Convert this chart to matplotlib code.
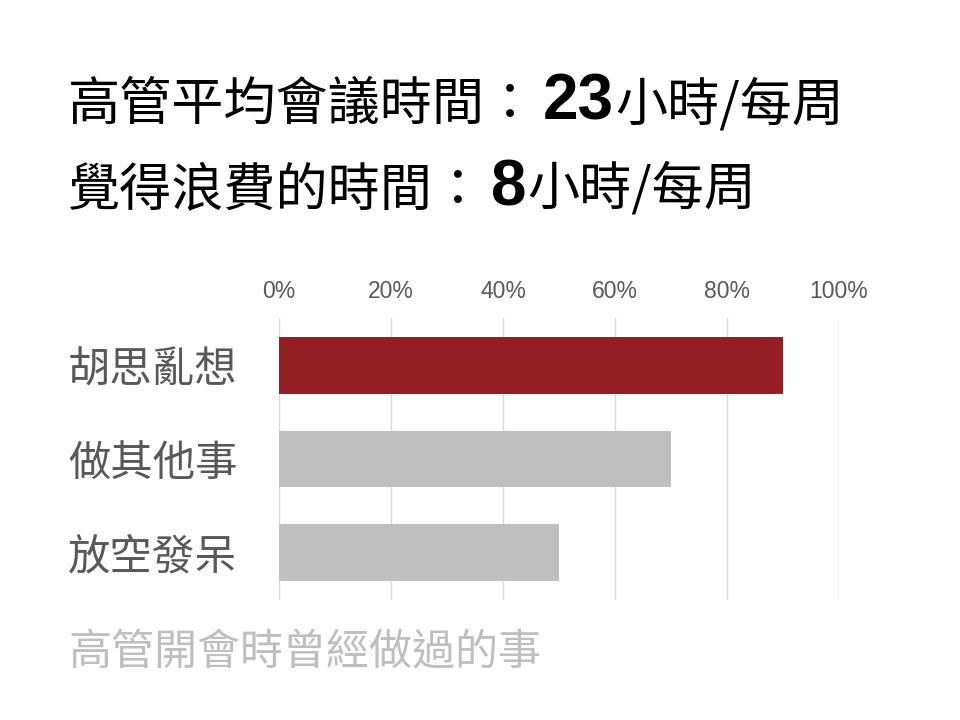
import matplotlib
matplotlib.use('Agg')
import matplotlib.pyplot as plt

plt.rcParams['font.family'] = ['Noto Sans CJK TC', 'DejaVu Sans']

categories = ['胡思亂想', '做其他事', '放空發呆']
values = [90, 70, 50]
bar_colors = ['#941f24', '#bfbfbf', '#bfbfbf']
xticks = [0, 20, 40, 60, 80, 100]
xtick_labels = ['0%', '20%', '40%', '60%', '80%', '100%']

title_lines = [
    ('高管平均會議時間：', '23', '小時/每周'),
    ('覺得浪費的時間：', '8', '小時/每周'),
]
footer = '高管開會時曾經做過的事'

fig = plt.figure(figsize=(9.6, 7.2), dpi=100)
fig.patch.set_facecolor('white')
ax = fig.add_axes([279 / 960, 1 - 600 / 720, 560 / 960, 282 / 720])

ypos = list(range(len(categories)))
ax.barh(ypos, values, height=0.61, color=bar_colors, zorder=3)
ax.set_xlim(0, 100)
ax.set_ylim(2.51, -0.51)
ax.set_xticks(xticks)
ax.set_xticklabels(xtick_labels, family='Liberation Sans', fontsize=16.5, color='#595959')
ax.xaxis.tick_top()
ax.tick_params(axis='x', length=0, pad=11)
ax.set_yticks(ypos)
ax.set_yticklabels(categories, fontsize=30.5, color='#595959')
ax.tick_params(axis='y', length=0, pad=30)
ax.grid(axis='x', color='#d9d9d9', linewidth=1, zorder=0)
for sp in ax.spines.values():
    sp.set_visible(False)

# 標題：中文 + 粗體數字 + 中文，依序排列
renderer = fig.canvas.get_renderer()
for i, (pre, num, post) in enumerate(title_lines):
    y = 1 - (120 + i * 85) / 720
    x = 68 / 960
    t = fig.text(x, y, pre, fontsize=37.5, color='black', va='baseline')
    x += t.get_window_extent(renderer).width / 960 + 6 / 960
    t = fig.text(x, y, num, fontsize=46, fontweight='bold', family='Liberation Sans',
                 color='black', va='baseline')
    x += t.get_window_extent(renderer).width / 960 + 1 / 960
    fig.text(x, y, post, fontsize=37.5, color='black', va='baseline')

fig.text(68 / 960, 1 - 665 / 720, footer, fontsize=31, color='#bfbfbf', va='baseline')

fig.savefig('out.png', dpi=100, facecolor='white')
